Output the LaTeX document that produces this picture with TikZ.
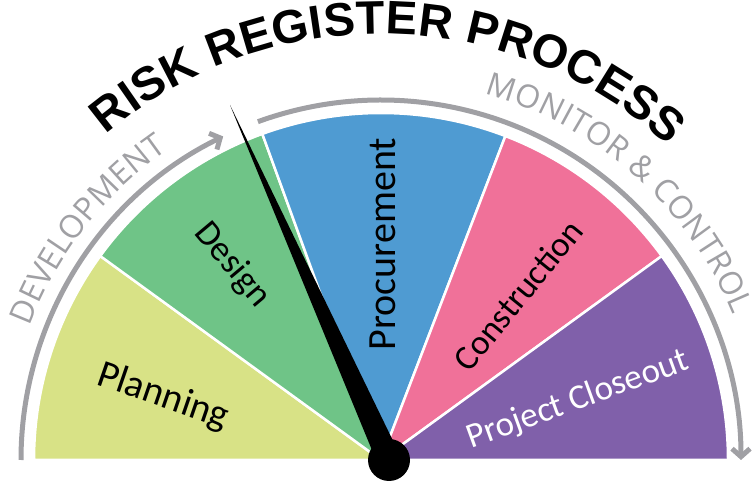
\documentclass[tikz,border=0pt]{standalone}
\usepackage{fontspec}
\setmainfont{Carlito}
\newfontfamily\titlefont{Liberation Sans}
\newfontfamily\arcfont{Open Sans}
\usetikzlibrary{decorations.text,arrows.meta,calc}
\definecolor{cplan}{RGB}{216,226,134}
\definecolor{cdesign}{RGB}{111,196,135}
\definecolor{cproc}{RGB}{79,155,210}
\definecolor{cconst}{RGB}{240,113,153}
\definecolor{cclose}{RGB}{128,96,170}
\definecolor{arcgray}{RGB}{160,160,164}
\begin{document}
\begin{tikzpicture}[x=1pt,y=1pt,
  seg/.style={draw=white, line width=2.5pt},
  arcline/.style={draw=arcgray, line width=5pt},
  lbl/.style={inner sep=0pt},
  gaugetip/.style={-{Straight Barb[length=8pt,width=18pt]}}]
\useasboundingbox (0,0) rectangle (754,481);
\coordinate (C) at (381,21);
% segments
\path[seg, fill=cplan] (C) -- ($(C)+(180:347)$) arc[start angle=180,end angle=144,radius=347] -- cycle;
\path[seg, fill=cdesign] (C) -- ($(C)+(144:347)$) arc[start angle=144,end angle=110,radius=347] -- cycle;
\path[seg, fill=cproc] (C) -- ($(C)+(110:347)$) arc[start angle=110,end angle=69,radius=347] -- cycle;
\path[seg, fill=cconst] (C) -- ($(C)+(69:347)$) arc[start angle=69,end angle=36,radius=347] -- cycle;
\path[seg, fill=cclose] (C) -- ($(C)+(36:347)$) arc[start angle=36,end angle=0,radius=347] -- cycle;
% labels
\node[lbl, font=\fontsize{39}{46}\selectfont, rotate=-19] (plan) at (163,84) {Planning};
\node[lbl, font=\fontsize{36}{43}\selectfont, rotate=-50] (design) at (232,216) {Design};
\node[lbl, font=\fontsize{40}{48}\selectfont, rotate=90] (proc) at (383,237) {Procurement};
\node[lbl, font=\fontsize{35}{42}\selectfont, rotate=51] (const) at (518,186) {Construction};
\node[lbl, font=\fontsize{35}{42}\selectfont, rotate=20, text=white] (close) at (578,81) {Project Closeout};
% gray arcs
\draw[arcline, gaugetip] ($(C)+(180:360)$) arc[start angle=180,end angle=116,radius=360];
\draw[arcline, gaugetip] ($(C)+(110:360)$) arc[start angle=110,end angle=0,radius=360];
% arc texts
\path[decorate, decoration={text along path, text align={fit to path},
  text={|\arcfont\fontsize{32}{36}\selectfont\color{arcgray}|DEVELOPMENT}}]
  ($(C)+(159.2:376)$) arc[start angle=159.2,end angle=124.6,radius=376];
\path[decorate, decoration={text along path, text align={fit to path},
  text={|\arcfont\fontsize{32}{36}\selectfont\color{arcgray}|MONITOR {\&} CONTROL}}]
  ($(C)+(74.2:381)$) arc[start angle=74.2,end angle=22.4,radius=381];
% title
\path[decorate, decoration={text along path, text align={fit to path},
  text={|\titlefont\bfseries\fontsize{47}{54}\selectfont|RISK REGISTER PROCESS}}]
  ($(C)+(130.2:426)$) arc[start angle=130.2,end angle=47.6,radius=426];
% needle
\coordinate (P) at (389,21);
\coordinate (T) at (230,376);
\fill[black] (T) -- ($(P)!12pt!90:(T)$) -- ($(P)!12pt!-90:(T)$) -- cycle;
\fill[black] (P) circle[radius=21];
\end{tikzpicture}
\end{document}
